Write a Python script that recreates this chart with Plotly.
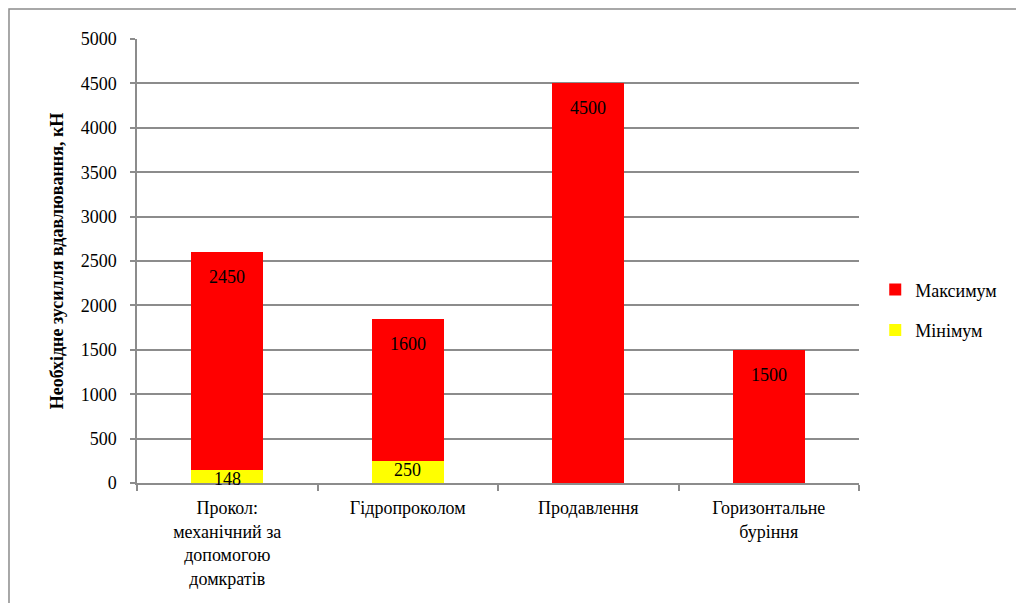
import plotly.graph_objects as go

categories = [
    "Прокол:<br>механічний за<br>допомогою<br>домкратів",
    "Гідропроколом",
    "Продавлення",
    "Горизонтальне<br>буріння",
]
minimum = [148, 250, 0, 0]
maximum = [2450, 1600, 4500, 1500]

font = "Liberation Serif"
grid = "#8c8c8c"

fig = go.Figure()
fig.add_trace(go.Bar(x=categories, y=minimum, name="Мінімум",
                     marker=dict(color="#ffff00", line=dict(width=0)),
                     legendgroup="min", legendrank=2))
fig.add_trace(go.Bar(x=categories, y=maximum, name="Максимум",
                     marker=dict(color="#ff0000", line=dict(width=0)),
                     legendgroup="max", legendrank=1))

# value labels near top of each segment
for c, lo, hi in zip(categories, minimum, maximum):
    if lo:
        fig.add_annotation(x=c, y=lo, text=str(lo), showarrow=False,
                           yanchor="top", yshift=3,
                           font=dict(family=font, size=18, color="black"))
    if hi:
        fig.add_annotation(x=c, y=lo + hi, text=str(hi), showarrow=False,
                           yanchor="top", yshift=-13,
                           font=dict(family=font, size=18, color="black"))

# outer chart frame
fig.add_shape(type="rect", xref="paper", yref="paper",
              x0=-0.1773, x1=1.25, y0=-0.3, y1=1.0676,
              line=dict(color="#8c8c8c", width=1.5), layer="below")

fig.update_layout(
    barmode="stack",
    bargap=0.6,
    width=1016, height=595,
    margin=dict(l=129, r=165, t=31, b=120),
    paper_bgcolor="white", plot_bgcolor="white",
    font=dict(family=font, size=18, color="black"),
    legend=dict(x=1.0225, y=0.39, yanchor="middle", xanchor="left",
                traceorder="grouped", tracegroupgap=14,
                font=dict(family=font, size=18)),
)
fig.update_xaxes(showline=True, linecolor=grid, linewidth=1.5,
                 ticks="outside", tickson="boundaries", ticklen=6,
                 tickcolor=grid, tickwidth=1.5, ticklabelstandoff=8,
                 tickfont=dict(family=font, size=18))
fig.update_yaxes(range=[0, 5000], dtick=500, showgrid=True,
                 gridcolor=grid, gridwidth=1.5, zeroline=False,
                 showline=True, linecolor=grid, linewidth=1.5,
                 ticks="outside", ticklen=5, tickcolor=grid, tickwidth=1.5,
                 ticklabelstandoff=10,
                 tickfont=dict(family=font, size=18),
                 title=dict(text="<b>Необхідне зусилля вдавлювання, кН</b>",
                            font=dict(family=font, size=18), standoff=12))

fig.write_html("out.html")
